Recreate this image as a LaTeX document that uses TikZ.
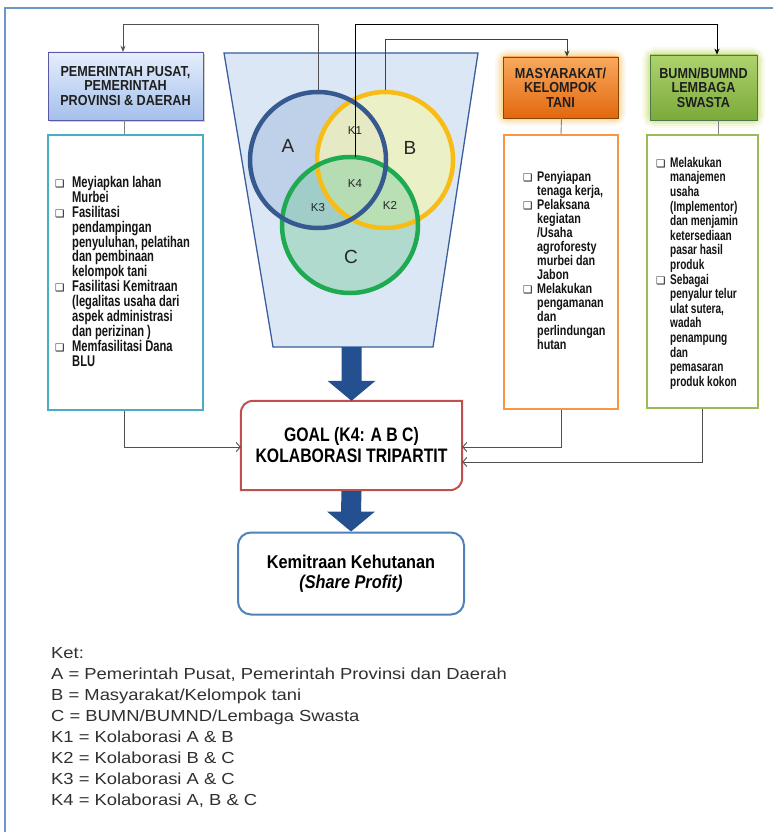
\documentclass[tikz,border=0pt]{standalone}
\usepackage{fontspec}
\setmainfont{Liberation Sans}
\newfontfamily\narA[FakeStretch=0.72]{Liberation Sans}
\newfontfamily\narB[FakeStretch=0.77]{Liberation Sans}
\newfontfamily\narC[FakeStretch=0.72]{Liberation Sans}
\newfontfamily\hdr[FakeStretch=0.87]{Liberation Sans}
\newfontfamily\gfont[FakeStretch=0.81]{Liberation Sans}
\newfontfamily\kfont[FakeStretch=0.88]{Liberation Sans}
\newfontfamily\legf[FakeStretch=1.15]{Liberation Sans}
\newfontfamily\dejav{DejaVu Sans}
\usetikzlibrary{arrows.meta,calc}
\definecolor{frameblue}{HTML}{6F94C8}
\definecolor{funfill}{HTML}{DCE7F5}
\definecolor{funline}{HTML}{3A5E9C}
\definecolor{ringA}{HTML}{36598F}
\definecolor{ringB}{HTML}{F8BC16}
\definecolor{ringC}{HTML}{1DAA50}
\definecolor{fillA}{HTML}{9DB4DC}
\definecolor{fillB}{HTML}{F2F4B8}
\definecolor{fillC}{HTML}{7CCB9E}
\definecolor{arrowblue}{HTML}{24508F}
\definecolor{cyanb}{HTML}{4BACC6}
\definecolor{orangeb}{HTML}{F79646}
\definecolor{greenb}{HTML}{9BBB59}
\definecolor{goalred}{HTML}{C0504D}
\definecolor{kemblue}{HTML}{4F81BD}
\definecolor{conngray}{HTML}{505050}
\definecolor{legtext}{HTML}{303030}
\definecolor{hAtop}{HTML}{E6EFFC}
\definecolor{hAbot}{HTML}{A4C0EC}
\definecolor{hBtop}{HTML}{F9A95E}
\definecolor{hBbot}{HTML}{E2680E}
\definecolor{hCtop}{HTML}{AED36E}
\definecolor{hCbot}{HTML}{7AAA3A}
\newcommand\bx[1]{\makebox[#1][l]{\dejav\fontsize{10.5}{10.5}\selectfont ❑}}
\newcommand\ix[1]{\hspace*{#1}}
\tikzset{
  hdrbox/.style={inner sep=0pt, align=center, font=\hdr\bfseries\fontsize{14.5}{14.5}\selectfont, text=black!88},
  listbox/.style={draw, line width=2pt, fill=white, inner sep=0pt},
  listtext/.style={inner sep=0pt, align=left, anchor=north west, text=black!92},
  conn/.style={draw=conngray, line width=0.9pt},
  topconn/.style={line width=1pt, -{Stealth[length=6pt,width=5pt]}},
  botconn/.style={conn, -{Straight Barb[length=4pt,width=9pt]}},
  ring/.style={circle, minimum size=136pt, inner sep=0pt, line width=4.5pt},
  klabel/.style={font=\fontsize{11.5}{12}\selectfont, text=black!85, inner sep=0pt},
  vlabel/.style={font=\fontsize{19}{20}\selectfont, text=black!85, inner sep=0pt},
}
\begin{document}
\begin{tikzpicture}[x=1pt,y=1pt]
\useasboundingbox (0,0) rectangle (773,-832);
\fill[white] (0,0) rectangle (773,-832);
% outer frame
\draw[frameblue, line width=2.5pt] (5,-840) -- (5,-8) -- (780,-8);

% funnel
\draw[funline, line width=1.3pt, fill=funfill] (224,-53) -- (478,-53) -- (433,-347) -- (273,-347) -- cycle;
\coordinate (fb) at (351.5,-347);

% venn fills
\fill[fillA, opacity=0.45] (318,-160) circle (68);
\fill[fillB, opacity=0.75] (385,-160) circle (68);
\fill[fillC, opacity=0.45] (350,-225) circle (68);
% rings
\node[ring, draw=ringB] (B) at (385,-160) {};
\node[ring, draw=ringC] (C) at (350,-225) {};
\node[ring, draw=ringA] (A) at (318,-160) {};

\node[vlabel] (lA) at (288,-146) {A};
\node[vlabel] (lB) at (410,-148) {B};
\node[vlabel] (lC) at (351,-257) {C};
\node[klabel] (k1) at (355,-131) {K1};
\node[klabel] (k4) at (355,-184) {K4};
\node[klabel] (k3) at (318,-208) {K3};
\node[klabel] (k2) at (390,-205) {K2};
\coordinate (k4top) at (355,-157);

% header boxes
\fill[black, opacity=0.18] (50,-54) rectangle (205,-122);
\node[hdrbox, minimum width=155pt, minimum height=68pt, top color=hAtop, bottom color=hAbot, draw=blue!30!gray, line width=0.4pt] (hA) at (125.5,-86) {PEMERINTAH PUSAT,\\PEMERINTAH\\PROVINSI \& DAERAH};

\foreach \w/\o in {16/0.08,12/0.12,8/0.16,4/0.2} {
  \draw[orangeb!70!yellow, line width=\w pt, opacity=\o, rounded corners=5pt] (503,-57) rectangle (618,-118);
  \draw[greenb!70!yellow, line width=\w pt, opacity=\o, rounded corners=5pt] (650,-55) rectangle (757,-120);
}
\node[hdrbox, minimum width=115pt, minimum height=61pt, top color=hBtop, bottom color=hBbot, draw=orange!55!black, line width=0.6pt] (hB) at (560.5,-87.5) {MASYARAKAT/\\KELOMPOK\\TANI};
\node[hdrbox, minimum width=107pt, minimum height=65pt, top color=hCtop, bottom color=hCbot, draw=green!25!black!70, line width=0.6pt] (hC) at (703.5,-87.5) {BUMN/BUMND\\LEMBAGA\\SWASTA};

% content boxes
\node[listbox, draw=cyanb, minimum width=155pt, minimum height=275pt] (cA) at (125.5,-272.5) {};
\node[listbox, draw=orangeb, minimum width=114pt, minimum height=274pt] (cB) at (561,-272) {};
\node[listbox, draw=greenb, minimum width=111pt, minimum height=273pt] (cC) at (702.5,-271.5) {};

\draw[conn, draw=gray] ([xshift=-1pt]hA.south) -- ([xshift=-1pt]cA.north);
\draw[conn, draw=gray] ([xshift=0.5pt]hB.south -| cB.north) -- (cB.north);
\draw[conn, draw=gray] ([xshift=14.5pt]hC.south) -- ([xshift=15.5pt]cC.north);

% list texts
\node[listtext, font=\narA\bfseries\fontsize{15.5}{14.9}\selectfont] (tA) at (55,-176) {%
\bx{17pt}Meyiapkan lahan\\
\ix{17pt}Murbei\\
\bx{17pt}Fasilitasi\\
\ix{17pt}pendampingan\\
\ix{17pt}penyuluhan, pelatihan\\
\ix{17pt}dan pembinaan\\
\ix{17pt}kelompok tani\\
\bx{17pt}Fasilitasi Kemitraan\\
\ix{17pt}(legalitas usaha dari\\
\ix{17pt}aspek administrasi\\
\ix{17pt}dan perizinan )\\
\bx{17pt}Memfasilitasi Dana\\
\ix{17pt}BLU};

\node[listtext, font=\narB\bfseries\fontsize{14}{14.0}\selectfont] (tB) at (523,-171) {%
\bx{14pt}Penyiapan\\
\ix{14pt}tenaga kerja,\\
\bx{14pt}Pelaksana\\
\ix{14pt}kegiatan\\
\ix{14pt}/Usaha\\
\ix{14pt}agroforesty\\
\ix{14pt}murbei dan\\
\ix{14pt}Jabon\\
\bx{14pt}Melakukan\\
\ix{14pt}pengamanan\\
\ix{14pt}dan\\
\ix{14pt}perlindungan\\
\ix{14pt}hutan};

\node[listtext, font=\narC\bfseries\fontsize{14}{14.6}\selectfont] (tC) at (656,-157) {%
\bx{14pt}Melakukan\\
\ix{14pt}manajemen\\
\ix{14pt}usaha\\
\ix{14pt}(Implementor)\\
\ix{14pt}dan menjamin\\
\ix{14pt}ketersediaan\\
\ix{14pt}pasar hasil\\
\ix{14pt}produk\\
\bx{14pt}Sebagai\\
\ix{14pt}penyalur telur\\
\ix{14pt}ulat sutera,\\
\ix{14pt}wadah\\
\ix{14pt}penampung\\
\ix{14pt}dan\\
\ix{14pt}pemasaran\\
\ix{14pt}produk kokon};

% top connectors
\coordinate (top1) at (0,-25);
\coordinate (top2) at (0,-40);
\coordinate (xA) at (123,0);
\coordinate (xB) at (567,0);
\coordinate (xC) at (717,0);
\draw[topconn, draw=conngray] (A.north) -- (A.north |- top1) -| (hA.north -| xA);
\draw[topconn, draw=black] (k4top) -- (k4top |- top1) -| (hC.north -| xC);
\draw[topconn, draw=black!75] (B.north) -- (B.north |- top2) -| (hB.north -| xB);

% goal box
\node[inner sep=0pt, minimum width=221pt, minimum height=89pt, align=center, font=\gfont\bfseries\fontsize{19.5}{21}\selectfont] (goal) at (351.5,-445.5) {GOAL (K4: A B C)\\KOLABORASI TRIPARTIT};
\draw[goalred, line width=2pt] ([xshift=13pt]goal.north west) -- (goal.north east) -- ([yshift=13pt]goal.south east)
  .. controls ([yshift=5pt]goal.south east) and ([xshift=-5pt]goal.south east) .. ([xshift=-13pt]goal.south east)
  -- (goal.south west) -- ([yshift=-13pt]goal.north west)
  .. controls ([yshift=-5pt]goal.north west) and ([xshift=5pt]goal.north west) .. ([xshift=13pt]goal.north west) -- cycle;

% kemitraan box
\node[draw=kemblue, line width=2pt, rounded corners=13pt, minimum width=226pt, minimum height=82pt, align=center, inner sep=0pt, font=\kfont\bfseries\fontsize{18.5}{20.5}\selectfont] (kem) at (351,-573.5) {Kemitraan Kehutanan\\\textit{(Share Profit)}};

% big arrows
\fill[arrowblue] ($(fb)+(-10,0)$) -- ($(fb)+(10,0)$) -- ($(goal.north)+(10,20)$) -- ($(goal.north)+(24,20)$) -- (goal.north) -- ($(goal.north)+(-24,20)$) -- ($(goal.north)+(-10,20)$) -- cycle;
\fill[arrowblue] ($(goal.south)+(-10,-1)$) -- ($(goal.south)+(10,-1)$) -- ($(kem.north)+(10,20)$) -- ($(kem.north)+(24,20)$) -- (kem.north) -- ($(kem.north)+(-24,20)$) -- ($(kem.north)+(-10,20)$) -- cycle;

% bottom connectors
\draw[botconn] ([xshift=-1.5pt]cA.south) |- ([yshift=-1.5pt]goal.west);
\draw[botconn] (cB.south) |- ([yshift=-1.5pt]goal.east);
\draw[botconn] (cC.south) |- ([yshift=-16.5pt]goal.east);

% legend
\node[inner sep=0pt, align=left, anchor=north west, text=legtext, font=\legf\fontsize{16}{21}\selectfont] (leg) at (51,-647) {%
Ket:\\
A = Pemerintah Pusat, Pemerintah Provinsi dan Daerah\\
B = Masyarakat/Kelompok tani\\
C = BUMN/BUMND/Lembaga Swasta\\
K1 = Kolaborasi A \& B\\
K2 = Kolaborasi B \& C\\
K3 = Kolaborasi A \& C\\
K4 = Kolaborasi A, B \& C};
\end{tikzpicture}
\end{document}
